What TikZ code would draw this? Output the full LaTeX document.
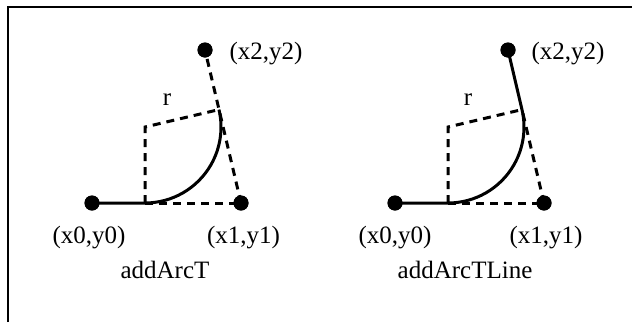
\documentclass[tikz,border=0pt]{standalone}
\usepackage{fontspec}
\setmainfont{Liberation Serif}
\begin{document}
\begin{tikzpicture}[x=1pt,y=-1pt,
  solidline/.style={line width=3pt},
  dashline/.style={line width=3pt,dash pattern=on 8pt off 6pt},
  dot/.style={circle,fill=black,inner sep=0pt,minimum size=15pt},
  lbl/.style={anchor=base,inner sep=0pt,font=\fontsize{25}{30}\selectfont}]
\useasboundingbox (0,0) rectangle (632,322);
\draw[line width=2pt] (8,322) -- (8,7) -- (632,7);
% left diagram: addArcT
\coordinate (aT1) at (145,203);
\coordinate (aC) at (145,127);
\coordinate (aT2) at (219,109.6);
\node[dot] (a0) at (92,203) {};
\node[dot] (a1) at (241,203) {};
\node[dot] (a2) at (205,50) {};
\draw[dashline] (aT1) -- (a1.center);
\draw[dashline] (a1.center) -- (a2.center);
\draw[dashline] (aT1) -- (aC) -- (aT2);
\draw[solidline] (a0.center) -- (aT1) arc[start angle=90,end angle=-13.24,radius=76];
\node[dot] at (a0) {};
\node[dot] at (a1) {};
\node[dot] at (a2) {};
\node[lbl] (a0l) at (89,243.5) {(x0,y0)};
\node[lbl] (a1l) at (243.5,243.5) {(x1,y1)};
\node[lbl] (a2l) at (266,59) {(x2,y2)};
\node[lbl] (arl) at (167,105) {r};
\node[lbl] (atl) at (165,278) {addArcT};
% right diagram: addArcTLine
\coordinate (bT1) at (448,203);
\coordinate (bC) at (448,127);
\coordinate (bT2) at (522,109.6);
\node[dot] (b0) at (395,203) {};
\node[dot] (b1) at (544,203) {};
\node[dot] (b2) at (508,50) {};
\draw[dashline] (bT1) -- (b1.center);
\draw[dashline] (b1.center) -- (bT2);
\draw[dashline] (bT1) -- (bC) -- (bT2);
\draw[solidline] (b0.center) -- (bT1) arc[start angle=90,end angle=-13.24,radius=76] -- (b2.center);
\node[dot] at (b0) {};
\node[dot] at (b1) {};
\node[dot] at (b2) {};
\node[lbl] (b0l) at (395,243.5) {(x0,y0)};
\node[lbl] (b1l) at (546,243.5) {(x1,y1)};
\node[lbl] (b2l) at (568,59) {(x2,y2)};
\node[lbl] (brl) at (468,105) {r};
\node[lbl] (btl) at (465,278) {addArcTLine};
\end{tikzpicture}
\end{document}
